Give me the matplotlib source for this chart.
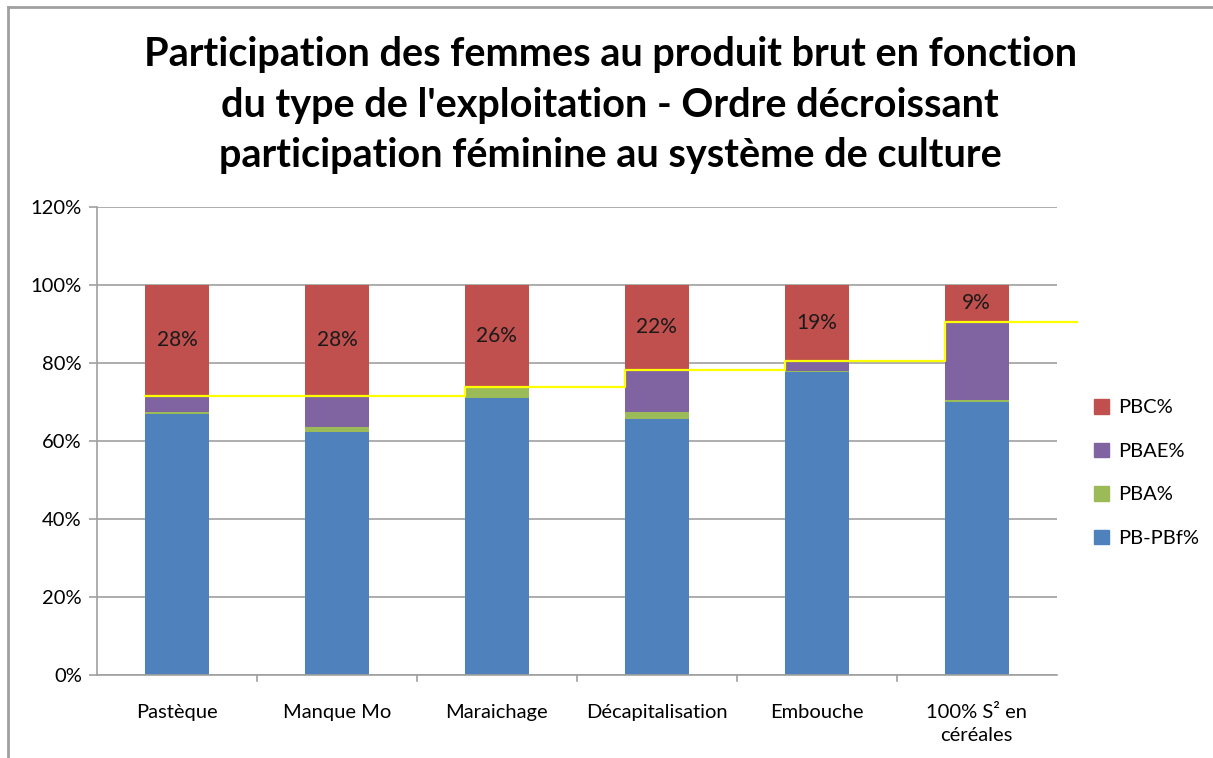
import matplotlib
matplotlib.use("Agg")
import matplotlib.pyplot as plt
import numpy as np
from matplotlib.lines import Line2D

categories = ["Pastèque", "Manque Mo", "Maraichage", "Décapitalisation",
              "Embouche", "100% S² en\ncéréales"]
pb_pbf = [66.8, 62.4, 70.9, 65.6, 77.7, 70.1]
pba = [0.6, 1.3, 2.9, 1.7, 0.3, 0.3]
pbae = [4.2, 7.9, 0.0, 10.9, 2.6, 20.2]
pbc = [28.4, 28.4, 26.2, 21.8, 19.4, 9.4]
pbc_labels = ["28%", "28%", "26%", "22%", "19%", "9%"]
yticks = [0, 20, 40, 60, 80, 100, 120]

title = ("Participation des femmes au produit brut en fonction\n"
         "du type de l'exploitation - Ordre décroissant\n"
         "participation féminine au système de culture")

colors = {"PB-PBf%": "#4f81bd", "PBA%": "#9bbb59",
          "PBAE%": "#8064a2", "PBC%": "#c0504d"}

plt.rcParams["font.family"] = ["Lato", "DejaVu Sans"]
FS = 14.5

fig = plt.figure(figsize=(12.13, 7.58), dpi=100)
ax = fig.add_axes([0.080, 0.1095, 0.791, 0.6175])

x = np.arange(len(categories))
w = 0.4
series = [("PB-PBf%", pb_pbf), ("PBA%", pba), ("PBAE%", pbae), ("PBC%", pbc)]
bottom = np.zeros(len(categories))
for name, vals in series:
    vals = np.array(vals)
    ax.bar(x, vals, w, bottom=bottom, color=colors[name], zorder=2,
           linewidth=0)
    bottom += vals

# value labels centred in the PBC segments
for i, (v, lab) in enumerate(zip(pbc, pbc_labels)):
    ax.text(x[i], 100 - v / 2, lab, ha="center", va="center",
            fontsize=FS + 0.5, color="#1a1a1a", zorder=4)

# female participation level (100 - PBC) as a step line
level = 100 - np.array(pbc)
xs = []
ys = []
for i, lv in enumerate(level):
    end = x[i] + 1 - w / 2 if i < len(level) - 1 else x[i] + 0.63
    xs += [x[i] - w / 2, end]
    ys += [lv, lv]
ax.plot(xs, ys, color="#ffff00", lw=1.6, zorder=3, clip_on=False)

ax.set_xlim(-0.5, 5.5)
ax.set_ylim(0, 120)
ax.set_yticks(yticks)
ax.set_yticklabels([f"{t}%" for t in yticks], fontsize=FS)
ax.yaxis.grid(True, color="#a0a0a0", lw=1.2, zorder=0)
ax.set_axisbelow(True)
ax.tick_params(axis="y", length=6, color="#a0a0a0", width=1.2, pad=5)

ax.set_xticks(x)
ax.set_xticklabels(categories, fontsize=FS, linespacing=1.45)
ax.tick_params(axis="x", length=0, pad=21)
for b in np.arange(0.5, 5.5, 1.0):
    ax.plot([b, b], [0, -1.6], color="#a0a0a0", lw=1.2, clip_on=False)

for s in ["top", "right"]:
    ax.spines[s].set_visible(False)
for s in ["left", "bottom"]:
    ax.spines[s].set_color("#a0a0a0")
    ax.spines[s].set_linewidth(1.2)

fig.text(0.503, 0.952, title, ha="center", va="top", fontsize=28.5,
         fontweight="bold", linespacing=1.45)

order = ["PBC%", "PBAE%", "PBA%", "PB-PBf%"]
leg_handles = [plt.Rectangle((0, 0), 1, 1, color=colors[n]) for n in order]
fig.legend(leg_handles, order, loc="center left",
           bbox_to_anchor=(0.887, 0.376), frameon=False, fontsize=FS,
           handlelength=0.75, handleheight=0.75, labelspacing=1.3,
           handletextpad=0.45)

# chart area frame (top and left edges)
fig.add_artist(Line2D([0.0066, 0.0066], [0.0, 0.991], color="#a0a0a0",
                      lw=2, transform=fig.transFigure))
fig.add_artist(Line2D([0.0066, 1.0], [0.991, 0.991], color="#a0a0a0",
                      lw=2, transform=fig.transFigure))

fig.savefig("out.png", dpi=100, facecolor="white")
